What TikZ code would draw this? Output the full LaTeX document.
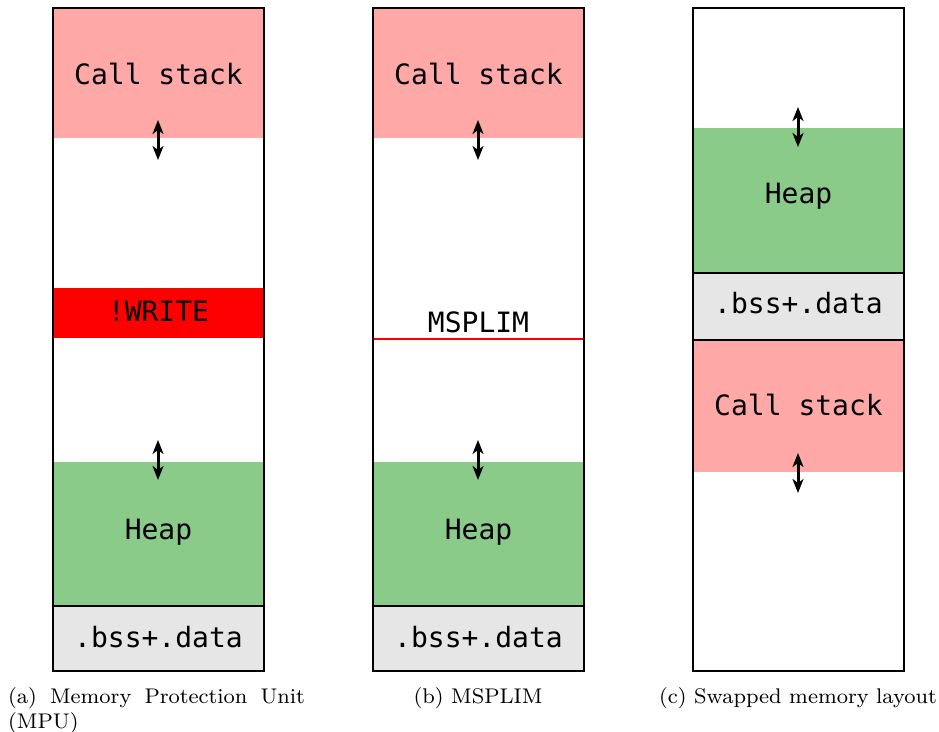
\documentclass[tikz,border=0pt]{standalone}
\usepackage{graphicx}
\usepackage{fontspec}
\setmonofont{DejaVu Sans Mono}
\usetikzlibrary{arrows.meta}
\definecolor{stackpink}{RGB}{255,168,168}
\definecolor{heapgreen}{RGB}{138,203,137}
\definecolor{datagray}{RGB}{230,230,230}
\definecolor{limitred}{RGB}{255,0,0}
\newcommand{\capbox}[2]{\scalebox{2.65}{\parbox{#1}{\fontsize{8}{9.5}\selectfont #2}}}
\newcommand{\capline}[1]{\scalebox{2.65}{\fontsize{8}{9.5}\selectfont #1}}
\begin{document}
\begin{tikzpicture}[x=1pt,y=-1pt,
  region/.style={rectangle,inner sep=0pt,minimum width=211pt},
  tag/.style={inner sep=0pt,anchor=base,font=\fontsize{28}{30}\selectfont\ttfamily},
  memframe/.style={draw=black,line width=2pt},
  sep/.style={draw=black,line width=2pt},
  growth/.style={{Stealth[length=14pt,width=11pt,inset=4pt]}-{Stealth[length=14pt,width=11pt,inset=4pt]},line width=3pt},
  caption/.style={inner sep=0pt}]
\useasboundingbox (0,0) rectangle (939,731);

% (a) Memory Protection Unit
\node[region,fill=stackpink,minimum height=130pt] (a-stack) at (158.5,73) {};
\node[region,fill=limitred,minimum height=50pt] (a-guard) at (158.5,313) {};
\node[region,fill=heapgreen,minimum height=144pt] (a-heap) at (158.5,534) {};
\node[region,fill=datagray,minimum height=65pt] (a-data) at (158.5,638.5) {};
\node[tag] (a-stack-t) at (158.5,84) {Call stack};
\node[tag] (a-guard-t) at (158.5,321) {!WRITE};
\node[tag] (a-heap-t) at (158.5,539) {Heap};
\node[tag] (a-data-t) at (158.5,647) {.bss+.data};
\draw[sep] (a-data.north west) -- (a-data.north east);
\draw[memframe] (53,8) rectangle (264,671);
\coordinate (a-s1) at (158,120);
\coordinate (a-s2) at (158,160);
\coordinate (a-h1) at (158,440);
\coordinate (a-h2) at (158,480);
\draw[growth] (a-s1) -- (a-s2);
\draw[growth] (a-h1) -- (a-h2);
\node[caption,anchor=north west] (a-cap) at (8,687)
  {\capbox{112pt}{(a) Memory Protection Unit (MPU)}};

% (b) MSPLIM
\node[region,fill=stackpink,minimum height=130pt] (b-stack) at (478.5,73) {};
\node[region,fill=heapgreen,minimum height=144pt] (b-heap) at (478.5,534) {};
\node[region,fill=datagray,minimum height=65pt] (b-data) at (478.5,638.5) {};
\node[tag] (b-stack-t) at (478.5,84) {Call stack};
\node[tag] (b-heap-t) at (478.5,539) {Heap};
\node[tag] (b-data-t) at (478.5,647) {.bss+.data};
\draw[sep] (b-data.north west) -- (b-data.north east);
\coordinate (b-l1) at (373,339);
\coordinate (b-l2) at (584,339);
\draw[limitred,line width=2pt] (b-l1) -- (b-l2);
\node[tag] (b-lim) at (478.5,332) {MSPLIM};
\draw[memframe] (373,8) rectangle (584,671);
\coordinate (b-s1) at (478,120);
\coordinate (b-s2) at (478,160);
\coordinate (b-h1) at (478,440);
\coordinate (b-h2) at (478,480);
\draw[growth] (b-s1) -- (b-s2);
\draw[growth] (b-h1) -- (b-h2);
\node[caption,anchor=north] (b-cap) at (478,687) {\capline{(b) MSPLIM}};

% (c) Swapped memory layout
\node[region,fill=heapgreen,minimum height=145pt] (c-heap) at (798.5,200.5) {};
\node[region,fill=datagray,minimum height=67pt] (c-data) at (798.5,306.5) {};
\node[region,fill=stackpink,minimum height=132pt] (c-stack) at (798.5,406) {};
\node[tag] (c-heap-t) at (798.5,203) {Heap};
\node[tag] (c-data-t) at (798.5,313) {.bss+.data};
\node[tag] (c-stack-t) at (798.5,415) {Call stack};
\draw[sep] (c-data.north west) -- (c-data.north east);
\draw[sep] (c-data.south west) -- (c-data.south east);
\draw[memframe] (693,8) rectangle (904,671);
\coordinate (c-h1) at (798,107);
\coordinate (c-h2) at (798,147);
\coordinate (c-s1) at (798,453);
\coordinate (c-s2) at (798,493);
\draw[growth] (c-h1) -- (c-h2);
\draw[growth] (c-s1) -- (c-s2);
\node[caption,anchor=north] (c-cap) at (798,687) {\capline{(c) Swapped memory layout}};
\end{tikzpicture}
\end{document}
